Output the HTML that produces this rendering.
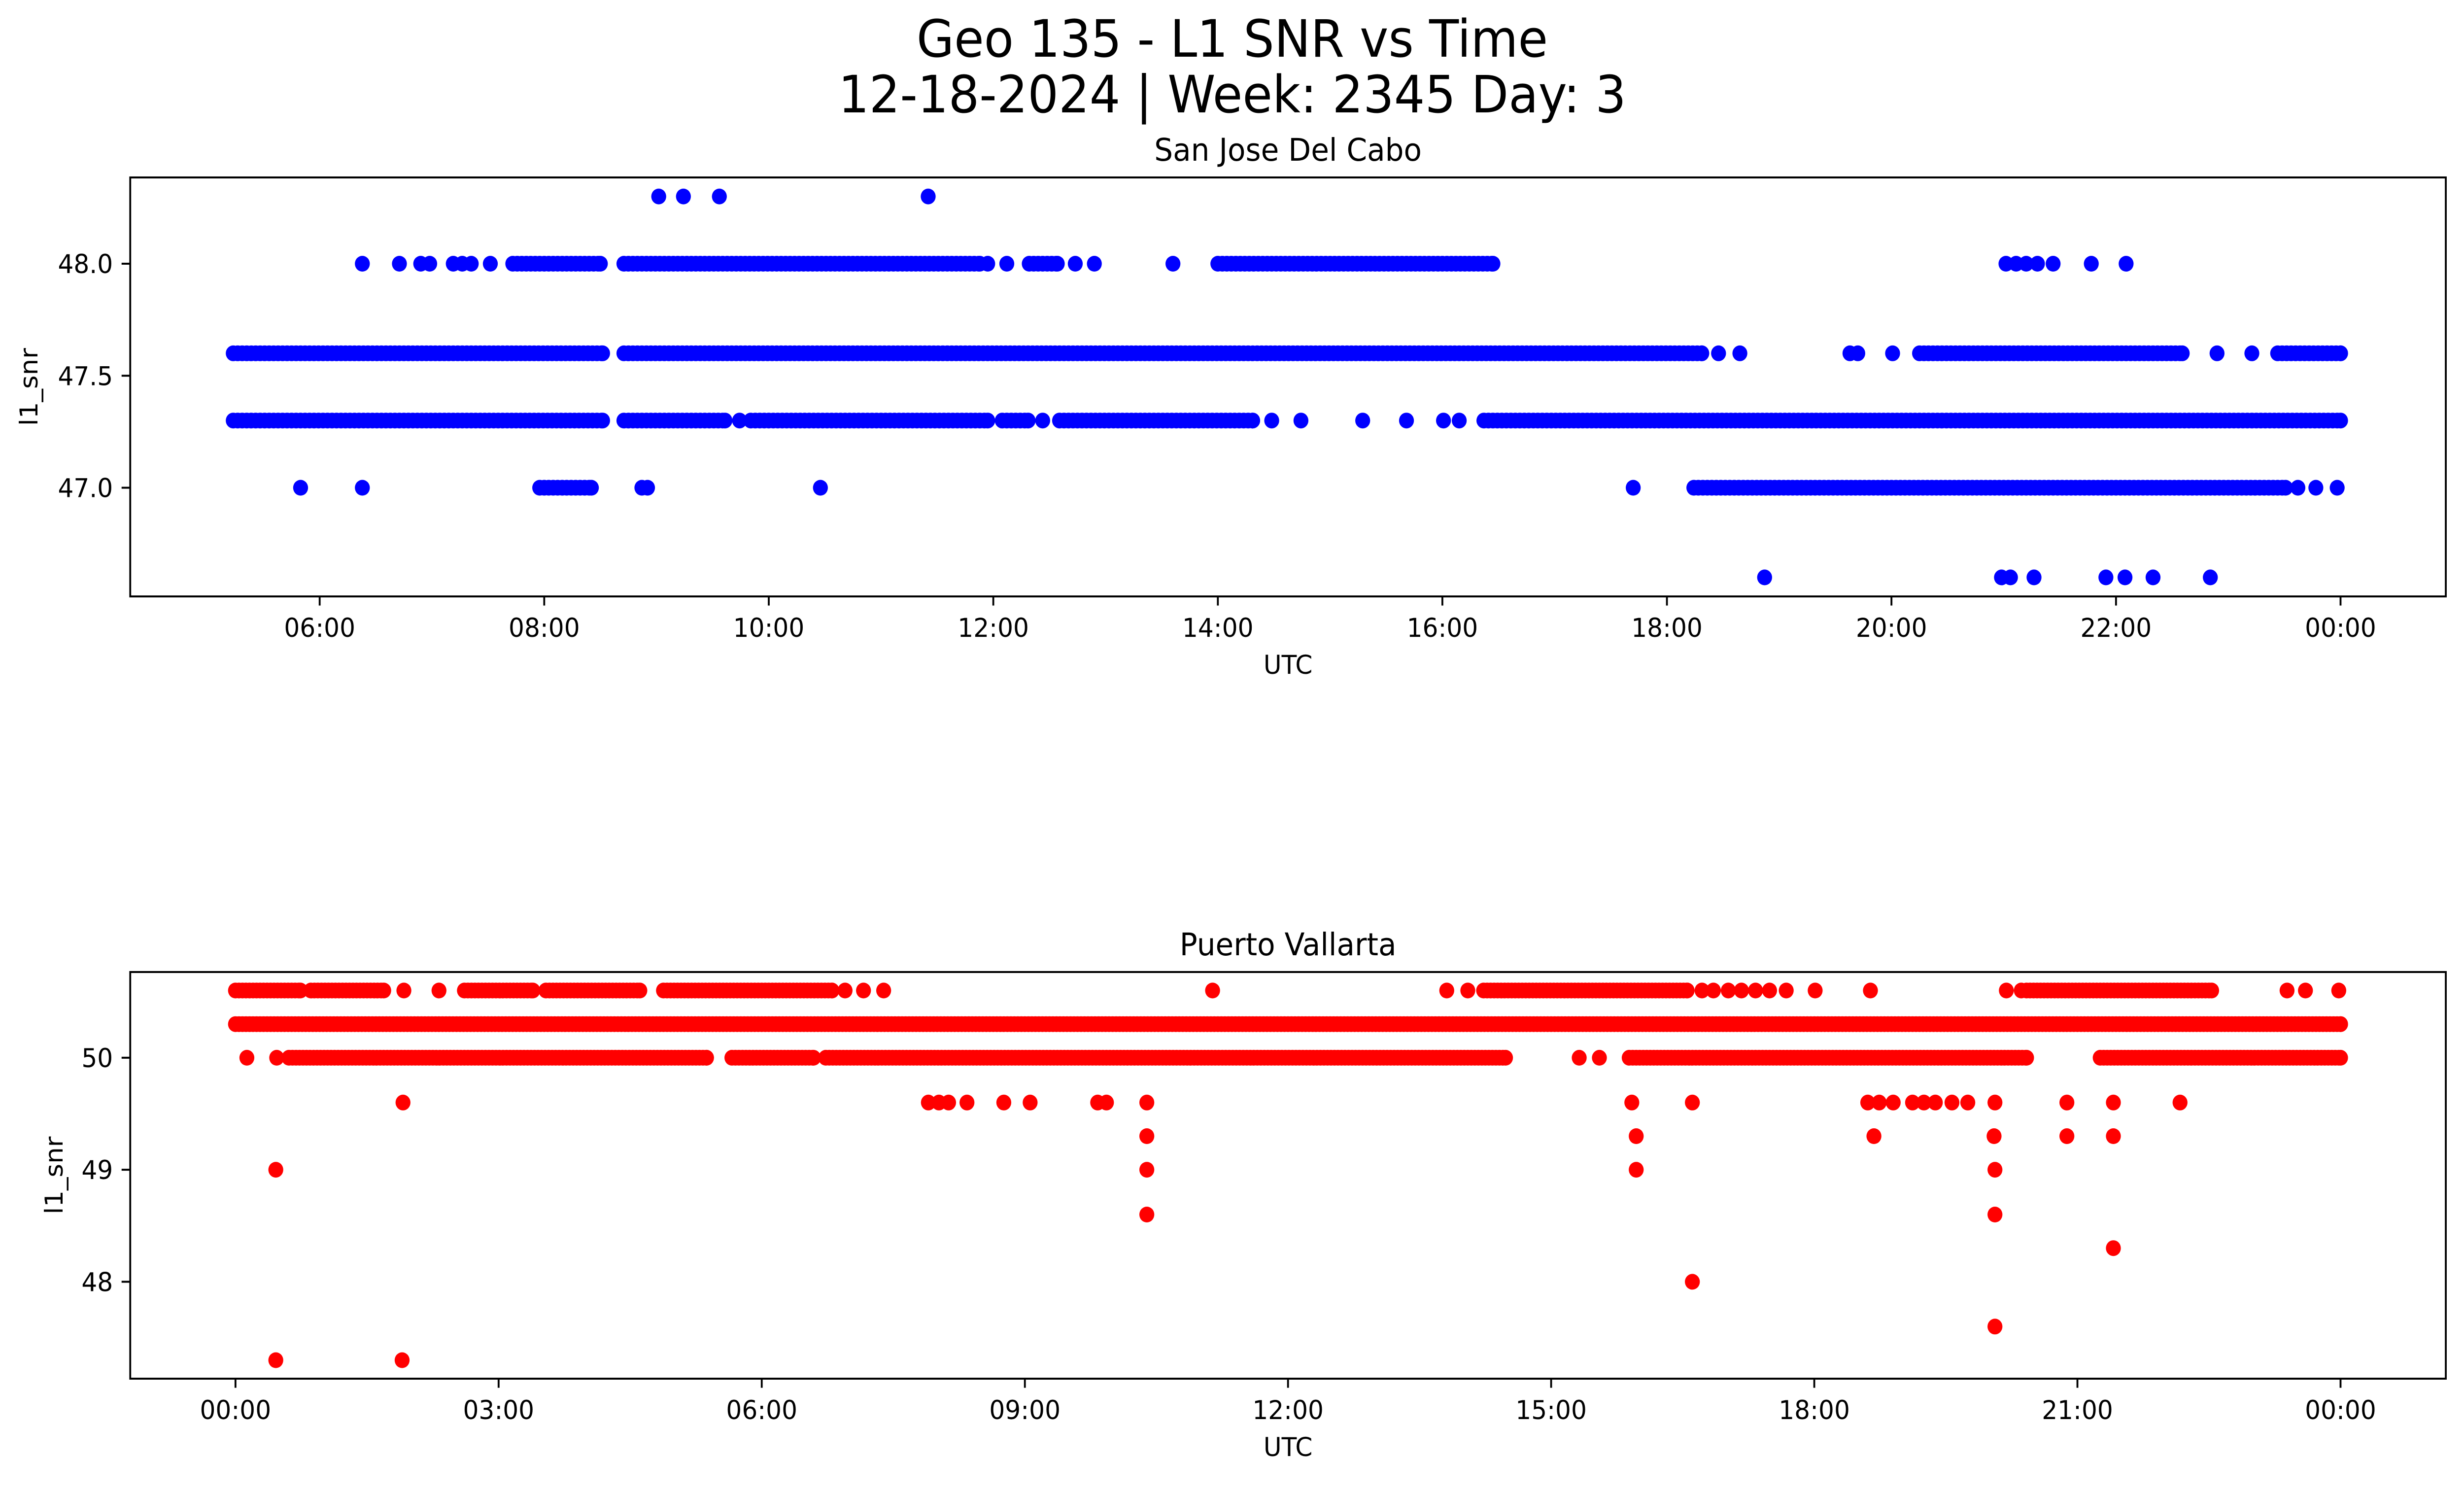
<!DOCTYPE html>
<html><head><meta charset="utf-8"><style>
html,body{margin:0;padding:0;background:#fff;overflow:hidden;width:100vw;height:100vh}
svg{display:block;position:absolute;left:0;top:0;width:100vw;height:100vh}
text{font-family:"DejaVu Sans","Liberation Sans",sans-serif;fill:#000}
</style></head><body>
<svg id="fig" viewBox="0 0 5279 3033" preserveAspectRatio="none" xmlns="http://www.w3.org/2000/svg">
<rect width="5279" height="3033" fill="#fff"/>
<text x="2640" y="115" font-size="104" text-anchor="middle">Geo 135 - L1 SNR vs Time</text>
<text x="2640" y="228" font-size="104" text-anchor="middle">12-18-2024 | Week: 2345 Day: 3</text>
<g id="top"></g>
<g id="bot"></g>
</svg>
<script>
// ---- Top panel data (hours UTC, l1_snr) ----
const topRuns = [
  [48.0,7.72,8.50],[48.0,8.71,11.88],[48.0,12.32,12.57],[48.0,14.0,16.45],
  [47.6,5.23,8.52],[47.6,8.71,18.31],[47.6,20.25,22.59],[47.6,23.44,24.0],
  [47.3,5.23,8.52],[47.3,8.71,9.61],[47.3,9.84,11.95],[47.3,12.08,12.31],[47.3,12.59,14.31],[47.3,16.37,24.0],
  [47.0,7.96,8.42],[47.0,18.24,23.51]
];
const topPoints = [
  [9.02,48.3],[9.24,48.3],[9.56,48.3],[11.42,48.3],
  [6.38,48.0],[6.71,48.0],[6.90,48.0],[6.98,48.0],[7.19,48.0],[7.27,48.0],[7.35,48.0],[7.52,48.0],
  [11.95,48.0],[12.12,48.0],[12.73,48.0],[12.90,48.0],[13.60,48.0],
  [21.02,48.0],[21.11,48.0],[21.20,48.0],[21.30,48.0],[21.44,48.0],[21.78,48.0],[22.09,48.0],
  [18.46,47.6],[18.65,47.6],[19.63,47.6],[19.70,47.6],[20.01,47.6],[22.90,47.6],[23.21,47.6],
  [9.74,47.3],[12.44,47.3],[14.48,47.3],[14.74,47.3],[15.29,47.3],[15.68,47.3],[16.01,47.3],[16.15,47.3],
  [5.83,47.0],[6.38,47.0],[8.87,47.0],[8.92,47.0],[10.46,47.0],[17.70,47.0],[23.62,47.0],[23.78,47.0],[23.97,47.0],
  [18.87,46.6],[20.98,46.6],[21.06,46.6],[21.27,46.6],[21.91,46.6],[22.08,46.6],[22.33,46.6],[22.84,46.6]
];
const topXTicks = [6,8,10,12,14,16,18,20,22,24];
const topXTickLabels = ["06:00","08:00","10:00","12:00","14:00","16:00","18:00","20:00","22:00","00:00"];
const topYTicks = [47.0,47.5,48.0];
const topYTickLabels = ["47.0","47.5","48.0"];

// ---- Bottom panel data ----
const botRuns = [
  [50.6,0.0,0.74],[50.6,0.86,1.69],[50.6,2.61,3.39],[50.6,3.54,4.61],[50.6,4.88,6.80],[50.6,14.23,16.55],[50.6,20.42,22.53],
  [50.3,0.0,24.0],
  [50.0,0.61,5.37],[50.0,5.66,6.59],[50.0,6.73,14.48],[50.0,15.89,20.42],[50.0,21.26,24.0]
];
const botPoints = [
  [1.92,50.6],[2.32,50.6],[6.95,50.6],[7.16,50.6],[7.39,50.6],[11.14,50.6],[13.81,50.6],[14.05,50.6],
  [16.72,50.6],[16.85,50.6],[17.02,50.6],[17.17,50.6],[17.33,50.6],[17.49,50.6],[17.68,50.6],[18.01,50.6],[18.64,50.6],
  [20.19,50.6],[20.36,50.6],[23.39,50.6],[23.60,50.6],[23.98,50.6],
  [0.13,50.0],[0.47,50.0],[15.32,50.0],[15.55,50.0],
  [1.91,49.6],[7.90,49.6],[8.02,49.6],[8.13,49.6],[8.34,49.6],[8.76,49.6],[9.06,49.6],[9.83,49.6],[9.93,49.6],[10.39,49.6],
  [15.92,49.6],[16.61,49.6],[18.61,49.6],[18.74,49.6],[18.90,49.6],[19.12,49.6],[19.25,49.6],[19.38,49.6],[19.57,49.6],[19.75,49.6],
  [20.06,49.6],[20.88,49.6],[21.41,49.6],[22.17,49.6],
  [10.39,49.3],[15.97,49.3],[18.68,49.3],[20.05,49.3],[20.88,49.3],[21.41,49.3],
  [0.46,49.0],[10.39,49.0],[15.97,49.0],[20.06,49.0],
  [10.39,48.6],[20.06,48.6],[21.41,48.3],[16.61,48.0],[20.06,47.6],
  [0.46,47.3],[1.90,47.3]
];
const botXTicks = [0,3,6,9,12,15,18,21,24];
const botXTickLabels = ["00:00","03:00","06:00","09:00","12:00","15:00","18:00","21:00","00:00"];
const botYTicks = [48,49,50];
const botYTickLabels = ["48","49","50"];

const NS = "http://www.w3.org/2000/svg";
function mk(tag, attrs, parent){
  const e = document.createElementNS(NS, tag);
  for (const k in attrs) e.setAttribute(k, attrs[k]);
  parent.appendChild(e);
  return e;
}
function panel(g, cfg){
  const L=279, R=5240, T=cfg.top, B=cfg.bottom;
  const sx = h => L + (h - cfg.xmin) / (cfg.xmax - cfg.xmin) * (R - L);
  const sy = v => B - (v - cfg.ymin) / (cfg.ymax - cfg.ymin) * (B - T);
  const clip = mk('clipPath', {id: cfg.id+'-clip'}, g);
  mk('rect', {x:L, y:T, width:R-L, height:B-T}, clip);
  const marks = mk('g', {fill: cfg.color, 'clip-path': 'url(#'+cfg.id+'-clip)'}, g);
  
  
  const step = 0.04;
  cfg.runs.forEach(r => {
    for (let h = r[1]; h <= r[2] + 1e-9; h += step) {
      const c = mk('circle', {cx: sx(h).toFixed(1), cy: sy(r[0]).toFixed(1), r: 16}, marks);
      
      
    }
    const c2 = mk('circle', {cx: sx(r[2]).toFixed(1), cy: sy(r[0]).toFixed(1), r: 16}, marks);
    
    
  });
  cfg.points.forEach(p => {
    const c = mk('circle', {cx: sx(p[0]).toFixed(1), cy: sy(p[1]).toFixed(1), r: 16}, marks);
    
    
  });
  const frame = mk('rect', {x:L, y:T, width:R-L, height:B-T, fill:'none', stroke:'#000', 'stroke-width':4}, g);
  
  
  cfg.xticks.forEach((h,i) => {
    const x = sx(h);
    mk('line', {x1:x, x2:x, y1:B, y2:B+18.5, stroke:'#000', 'stroke-width':4}, g);
    const t = mk('text', {x:x, y:B+82, 'font-size':53, 'text-anchor':'middle'}, g);
    t.textContent = cfg.xlabels[i];
    
    
  });
  cfg.yticks.forEach((v,i) => {
    const y = sy(v);
    mk('line', {x1:L-18.5, x2:L, y1:y, y2:y, stroke:'#000', 'stroke-width':4}, g);
    const t = mk('text', {x:L-37, y:y+19, 'font-size':53, 'text-anchor':'end'}, g);
    t.textContent = cfg.ylabels[i];
    
    
  });
  const xt = mk('text', {x:(L+R)/2, y:B+157, 'font-size':53, 'text-anchor':'middle'}, g);
  xt.textContent = 'UTC';
  
  
  const cy = (T+B)/2;
  const yt = mk('text', {x:cfg.ylabx, y:cy, 'font-size':53, 'text-anchor':'middle', transform:'rotate(-90 '+cfg.ylabx+' '+cy+')'}, g);
  yt.textContent = 'l1_snr';
  
  
  const tt = mk('text', {x:(L+R)/2, y:T-34, 'font-size':63, 'text-anchor':'middle'}, g);
  tt.textContent = cfg.title;
  
  
}
panel(document.getElementById('top'), {
  id:'top', top:360, bottom:1210, xmin:4.3125, xmax:24.9375, ymin:46.515, ymax:48.385,
  color:'#0000ff', runs:topRuns, points:topPoints, xticks:topXTicks, xlabels:topXTickLabels,
  yticks:topYTicks, ylabels:topYTickLabels, ylabx:80, title:'San Jose Del Cabo'
});
panel(document.getElementById('bot'), {
  id:'bottom', top:1972, bottom:2797, xmin:-1.2, xmax:25.2, ymin:47.135, ymax:50.765,
  color:'#ff0000', runs:botRuns, points:botPoints, xticks:botXTicks, xlabels:botXTickLabels,
  yticks:botYTicks, ylabels:botYTickLabels, ylabx:134, title:'Puerto Vallarta'
});
</script>
</body></html>
